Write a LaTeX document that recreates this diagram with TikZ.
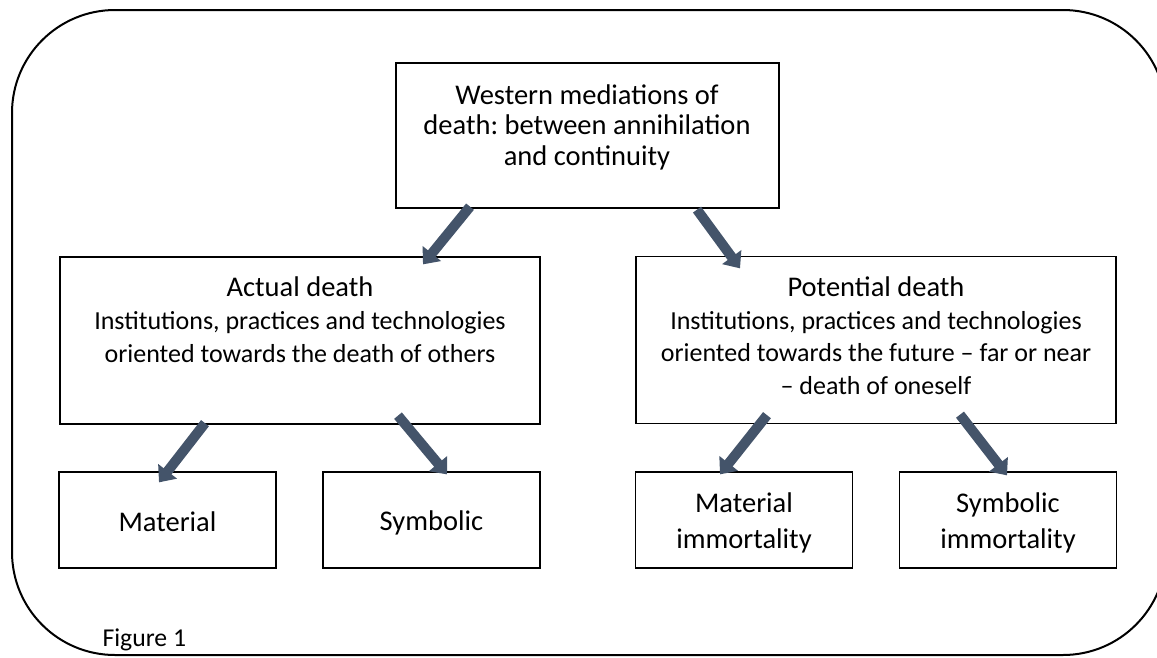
\documentclass[tikz,border=0pt]{standalone}
\usepackage{fontspec}
\setmainfont{Carlito}
\usetikzlibrary{arrows.meta}
\definecolor{slate}{HTML}{44546A}
\frenchspacing

\begin{document}
\begin{tikzpicture}[x=1pt,y=-1pt,
  box/.style={draw,line width=1.3pt,inner sep=0pt,minimum width=217pt,minimum height=96pt},
  bigbox/.style={box,minimum width=480pt,minimum height=167pt},
  bigarrow/.style={-{Triangle[width=23pt,length=14pt]},line width=10pt,slate},
  head/.style={font=\fontsize{28.5}{30.5}\selectfont},
  body/.style={font=\fontsize{26}{32.5}\selectfont,align=center}]
\useasboundingbox (0,0) rectangle (1157,657);
% ==================== FRAME ====================
\draw[line width=2pt,rounded corners=103pt] (12,10) rectangle (1166,655);
\node[font=\fontsize{25.7}{30}\selectfont,anchor=base west] (fig) at (99,646) {Figure 1};

% ==================== TOP ====================
\node[box,minimum width=383pt,minimum height=145pt] (top) at (587.5,135.5) {};
\node[head,align=center] (toptxt) at (587,127) {Western mediations of\\death: between annihilation\\and continuity};

% ==================== MIDDLE ====================
\node[bigbox] (actual) at (300,340.5) {};
\node[head,anchor=base] (actualhd) at (300,296) {Actual death};
\node[body] (actualtxt) at (300,337) {Institutions, practices and technologies\\oriented towards the death of others};

\node[bigbox] (potential) at (876,340) {};
\node[head,anchor=base] (potentialhd) at (876,296) {Potential death};
\node[body] (potentialtxt) at (876,353) {Institutions, practices and technologies\\oriented towards the future -- far or near\\-- death of oneself};

% ==================== BOTTOM ====================
\node[box] (material) at (167.5,520) {};
\node[head,anchor=base] (materialtxt) at (167.5,531.5) {Material};
\node[box] (symbolic) at (431.5,520) {};
\node[head,anchor=base] (symbolictxt) at (431.5,530.5) {Symbolic};
\node[box] (matimm) at (744,520) {};
\node[head,align=center,font=\fontsize{28.5}{36}\selectfont] (matimmtxt) at (744,522.5) {Material\\immortality};
\node[box] (symimm) at (1008,520) {};
\node[head,align=center,font=\fontsize{28.5}{36}\selectfont] (symimmtxt) at (1008,522.5) {Symbolic\\immortality};

% ==================== ARROWS ====================
\draw[bigarrow] ([shift={(-117.5,-2)}]top.south) -- ([shift={(123,8)}]actual.north);
\draw[bigarrow] ([shift={(109.5,1)}]top.south) -- ([shift={(-136,12.5)}]potential.north);
\draw[bigarrow] ([shift={(-95,-1.5)}]actual.south) -- ([shift={(-8.5,11)}]material.north);
\draw[bigarrow] ([shift={(98,-9)}]actual.south) -- ([shift={(15.5,3)}]symbolic.north);
\draw[bigarrow] ([shift={(-109,-9)}]potential.south) -- ([shift={(-24,3)}]matimm.north);
\draw[bigarrow] ([shift={(84,-9.5)}]potential.south) -- ([shift={(-1,4)}]symimm.north);
\end{tikzpicture}
\end{document}
